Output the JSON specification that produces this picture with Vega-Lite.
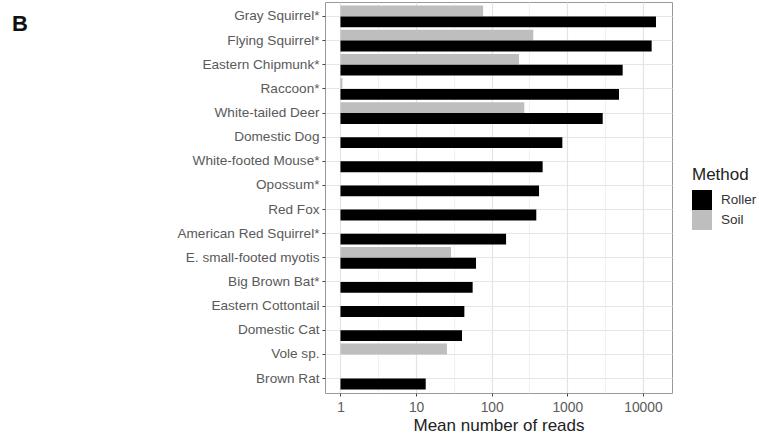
{
  "$schema": "https://vega.github.io/schema/vega-lite/v6.json",
  "width": 347,
  "height": 391,
  "autosize": {"type": "none"},
  "padding": {"left": 325, "top": 2, "right": 87, "bottom": 44},
  "background": "white",
  "title": {"text": "B", "anchor": "start", "frame": "group", "dx": -313, "dy": 51, "fontSize": 22, "fontWeight": "bold", "font": "Liberation Sans", "color": "#111111", "baseline": "alphabetic", "offset": 0},
  "config": {
    "font": "Liberation Sans",
    "view": {"stroke": "#999999", "strokeWidth": 1}
  },
  "data": {
    "values": [
      {"species": "Gray Squirrel*", "method": "Soil", "reads": 77},
      {"species": "Gray Squirrel*", "method": "Roller", "reads": 14900},
      {"species": "Flying Squirrel*", "method": "Soil", "reads": 355},
      {"species": "Flying Squirrel*", "method": "Roller", "reads": 13060},
      {"species": "Eastern Chipmunk*", "method": "Soil", "reads": 230},
      {"species": "Eastern Chipmunk*", "method": "Roller", "reads": 5400},
      {"species": "Raccoon*", "method": "Soil", "reads": 1.06},
      {"species": "Raccoon*", "method": "Roller", "reads": 4830},
      {"species": "White-tailed Deer", "method": "Soil", "reads": 270},
      {"species": "White-tailed Deer", "method": "Roller", "reads": 2940},
      {"species": "Domestic Dog", "method": "Roller", "reads": 860},
      {"species": "White-footed Mouse*", "method": "Roller", "reads": 472},
      {"species": "Opossum*", "method": "Roller", "reads": 423},
      {"species": "Red Fox", "method": "Roller", "reads": 389},
      {"species": "American Red Squirrel*", "method": "Roller", "reads": 155},
      {"species": "E. small-footed myotis", "method": "Soil", "reads": 29},
      {"species": "E. small-footed myotis", "method": "Roller", "reads": 62},
      {"species": "Big Brown Bat*", "method": "Roller", "reads": 56},
      {"species": "Eastern Cottontail", "method": "Roller", "reads": 43.5},
      {"species": "Domestic Cat", "method": "Roller", "reads": 40.5},
      {"species": "Vole sp.", "method": "Soil", "reads": 25.6},
      {"species": "Brown Rat", "method": "Roller", "reads": 13.4}
    ]
  },
  "mark": {"type": "bar"},
  "encoding": {
    "y": {
      "field": "species",
      "type": "nominal",
      "scale": {
        "domain": ["Gray Squirrel*", "Flying Squirrel*", "Eastern Chipmunk*", "Raccoon*", "White-tailed Deer", "Domestic Dog", "White-footed Mouse*", "Opossum*", "Red Fox", "American Red Squirrel*", "E. small-footed myotis", "Big Brown Bat*", "Eastern Cottontail", "Domestic Cat", "Vole sp.", "Brown Rat"],
        "paddingInner": 0,
        "paddingOuter": 0.1
      },
      "axis": {
        "title": null,
        "bandPosition": 0.5,
        "domain": false,
        "grid": true,
        "gridColor": "#e6e6e6",
        "gridWidth": 1,
        "tickColor": "#444444",
        "tickSize": 3,
        "labelPadding": 3,
        "labelFontSize": 13.6,
        "labelColor": "#5a5a5a"
      }
    },
    "yOffset": {
      "field": "method",
      "type": "nominal",
      "scale": {"domain": ["Soil", "Roller"], "paddingInner": 0, "paddingOuter": 0.111}
    },
    "x": {
      "field": "reads",
      "type": "quantitative",
      "scale": {"type": "log", "domain": [0.624, 24266], "nice": false, "clamp": true},
      "axis": {
        "title": "Mean number of reads",
        "titleFontSize": 17,
        "titleFontWeight": "normal",
        "titleColor": "#222222",
        "titlePadding": 4,
        "values": [1, 3.1623, 10, 31.623, 100, 316.23, 1000, 3162.3, 10000],
        "labelExpr": "abs(log(datum.value)/LN10 - round(log(datum.value)/LN10)) < 0.01 ? format(datum.value, 'd') : ''",
        "labelFlush": false,
        "labelFontSize": 13.8,
        "labelColor": "#5a5a5a",
        "labelPadding": 4,
        "domain": false,
        "grid": true,
        "gridColor": {"condition": {"test": "abs(log(datum.value)/LN10 - round(log(datum.value)/LN10)) < 0.01", "value": "#e3e3e3"}, "value": "#eeeeee"},
        "gridWidth": {"condition": {"test": "abs(log(datum.value)/LN10 - round(log(datum.value)/LN10)) < 0.01", "value": 1.2}, "value": 0.8},
        "tickColor": {"condition": {"test": "abs(log(datum.value)/LN10 - round(log(datum.value)/LN10)) < 0.01", "value": "#444444"}, "value": "transparent"},
        "tickSize": 3
      }
    },
    "x2": {"datum": 1},
    "color": {
      "field": "method",
      "type": "nominal",
      "scale": {"domain": ["Roller", "Soil"], "range": ["#000000", "#bebebe"]},
      "legend": {
        "title": "Method",
        "orient": "none",
        "legendX": 367,
        "legendY": 165,
        "titleFontSize": 17,
        "titleFontWeight": "normal",
        "titleColor": "#222222",
        "titlePadding": 6,
        "symbolType": "square",
        "symbolSize": 400,
        "symbolStrokeWidth": 0,
        "rowPadding": 0,
        "labelFontSize": 13.5,
        "labelColor": "#333333",
        "labelOffset": 9
      }
    }
  }
}
